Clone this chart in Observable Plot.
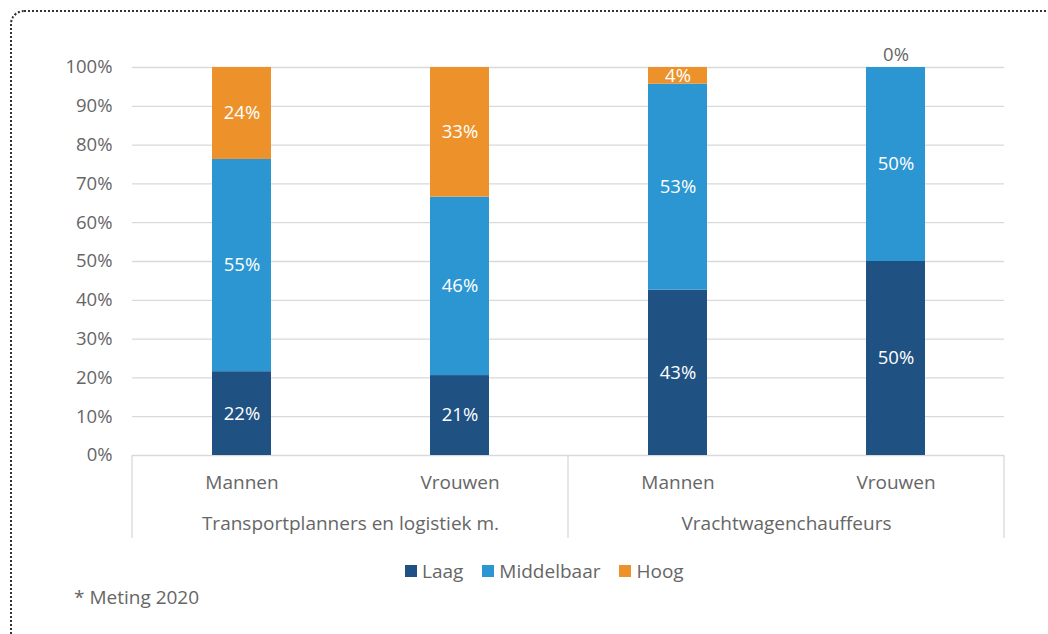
<!DOCTYPE html>
<html><head><meta charset="utf-8">
<script src="https://cdn.jsdelivr.net/npm/d3@7"></script>
<script src="https://cdn.jsdelivr.net/npm/@observablehq/plot@0.6"></script>
<style>
body{margin:0;background:#fff;font-family:"Open Sans",sans-serif;}
#wrap{position:relative;width:1048px;height:634px;overflow:hidden;background:#fff;}
#border{position:absolute;left:10px;top:10px;width:1100px;height:700px;border-top:2px dotted #333;border-left:2px dotted #333;border-top-left-radius:14px;box-sizing:border-box;}
#chart{position:absolute;left:0;top:0;}
#legend{position:absolute;left:405px;top:558px;height:26px;display:flex;align-items:center;font-size:19px;color:#666;white-space:nowrap;}
#legend .it{display:flex;align-items:center;margin-right:19px;}
#legend .sw{width:12px;height:12px;margin-right:5px;}
#caption{position:absolute;left:74px;top:584px;height:26px;line-height:26px;font-size:19px;color:#666;}
</style></head>
<body><div id="wrap"><div id="border"></div><div id="chart"></div><div id="legend"></div><div id="caption">* Meting 2020</div></div>
<script>
const groups = ["Transportplanners en logistiek m.", "Vrachtwagenchauffeurs"];
const genders = ["Mannen", "Vrouwen"];
const levels = ["Laag", "Middelbaar", "Hoog"];
const colors = ["#1F5283", "#2C96D2", "#ED922B"];
// per bar: TP Mannen, TP Vrouwen, VW Mannen, VW Vrouwen
const laag = [0.216, 0.206, 0.426, 0.50];
const middelbaar = [0.547, 0.460, 0.531, 0.50];
const hoog = [0.237, 0.334, 0.043, 0.0];
const yTicks = [0, 0.1, 0.2, 0.3, 0.4, 0.5, 0.6, 0.7, 0.8, 0.9, 1.0];

const series = [laag, middelbaar, hoog];
const rows = [];
levels.forEach((lev, k) => {
  series[k].forEach((v, i) => {
    rows.push({group: groups[Math.floor(i / 2)], gender: genders[i % 2], level: lev, value: v,
      total: laag[i] + middelbaar[i] + hoog[i]});
  });
});
const pct = v => Math.round(v * 100) + "%";

const chart = Plot.plot({
  width: 1048, height: 550,
  marginLeft: 131, marginRight: 44, marginTop: 67, marginBottom: 95,
  style: {fontFamily: "'Open Sans', sans-serif", color: "#666", background: "transparent"},
  fx: {domain: groups, paddingInner: 0, paddingOuter: 0, axis: null, label: null},
  x: {domain: genders, paddingInner: 0.73, paddingOuter: 0.365, axis: null, label: null},
  y: {domain: [0, 1], axis: null},
  color: {domain: levels, range: colors},
  marks: [
    Plot.ruleY(yTicks, {stroke: "#d9d9d9", strokeWidth: 1.3}),
    Plot.axisY({ticks: yTicks, tickFormat: pct, tickSize: 0, tickPadding: 20, fontSize: 18.5, label: null}),
    Plot.barY(rows, {fx: "group", x: "gender", y: "value", fill: "level", z: "level"}),
    Plot.text(rows, Plot.stackY({fx: "group", x: "gender", y: "value", z: "level",
      text: d => d.value > 0 ? pct(d.value) : "", fill: "white", fontSize: 18.5})),
    Plot.text(rows.filter(d => d.value === 0), {fx: "group", x: "gender", y: "total",
      text: d => pct(d.value), fill: "#666", fontSize: 18.5, dy: -12}),
    Plot.text(rows.filter(d => d.level === levels[0]), {fx: "group", x: "gender", text: "gender",
      frameAnchor: "bottom", dy: 33, fontSize: 19, fill: "#666"}),
    Plot.text(groups, {fx: d => d, text: d => d, frameAnchor: "bottom", dy: 74, fontSize: 19, fill: "#666"})
  ]
});
document.getElementById("chart").appendChild(chart);

// category box separators below the axis
const fx = chart.scale("fx");
const ySc = chart.scale("y");
const svg = d3.select(chart);
const y0 = ySc.apply(0);
const edges = groups.map(g => fx.apply(g));
edges.push(fx.apply(groups[groups.length - 1]) + fx.bandwidth);
svg.append("g").selectAll("line").data(edges).join("line")
  .attr("x1", d => d).attr("x2", d => d)
  .attr("y1", y0).attr("y2", y0 + 83)
  .attr("stroke", "#d9d9d9").attr("stroke-width", 1.3);

// legend
const lg = d3.select("#legend");
levels.forEach((l, i) => {
  const it = lg.append("div").attr("class", "it");
  it.append("div").attr("class", "sw").style("background", colors[i]);
  it.append("span").text(l);
});
</script></body></html>
